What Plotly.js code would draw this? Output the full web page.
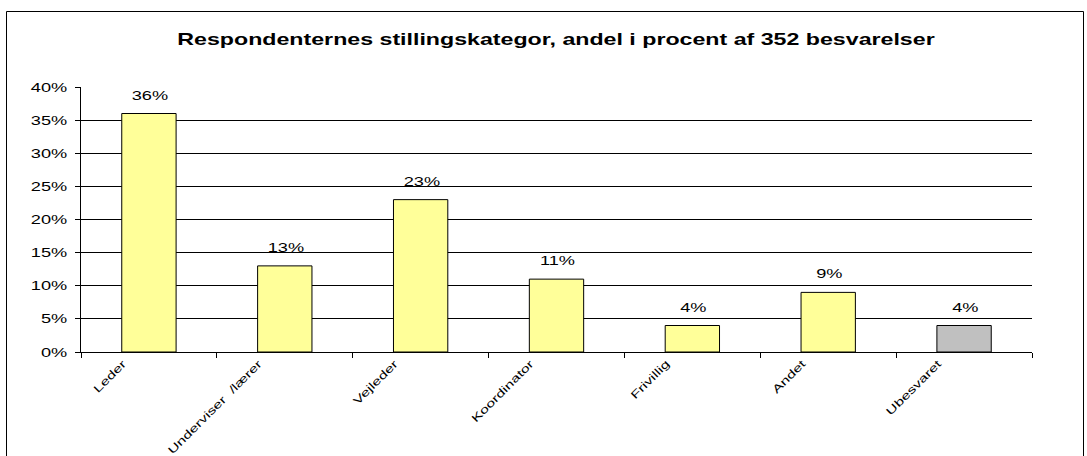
<!DOCTYPE html>
<html>
<head>
<meta charset="utf-8">
<script src="https://cdn.plot.ly/plotly-3.0.1.min.js"></script>
<style>
html,body{margin:0;padding:0;background:#fff;}
#chart{width:1087px;height:456px;}
</style>
</head>
<body>
<div id="chart"></div>
<script>
const categories = ["Leder", "Underviser  /lærer", "Vejleder", "Koordinator", "Frivillig", "Andet", "Ubesvaret"];
const values = [36, 13, 23, 11, 4, 9, 4];
const labels = ["36%", "13%", "23%", "11%", "4%", "9%", "4%"];
const barColors = ["#FFFF99", "#FFFF99", "#FFFF99", "#FFFF99", "#FFFF99", "#FFFF99", "#C0C0C0"];
const yTickVals = [0, 5, 10, 15, 20, 25, 30, 35, 40];
const yTickText = ["0%", "5%", "10%", "15%", "20%", "25%", "30%", "35%", "40%"];
const titleText = "Respondenternes stillingskategor, andel i procent af 352 besvarelser";

const L = 81, R = 55, T = 87, B = 104, W = 1087, H = 456;
const pw = W - L - R, ph = H - T - B;
const FONT = "Liberation Sans, Arial, sans-serif";
const STRETCH = 1.4;

const trace = {
  type: "bar",
  x: categories,
  y: values,
  width: 0.4,
  marker: {color: barColors, line: {color: "#000", width: 1}},
  hoverinfo: "none"
};

const annotations = categories.map((c, i) => ({
  x: c, y: values[i], xref: "x", yref: "y",
  text: labels[i], showarrow: false, yanchor: "bottom", yshift: 9, xshift: 1,
  font: {family: FONT, size: 13, color: "#000"}
}));

const layout = {
  width: W, height: H,
  margin: {l: L, r: R, t: T, b: B},
  paper_bgcolor: "#fff", plot_bgcolor: "#fff",
  showlegend: false,
  title: {
    text: "<b>" + titleText + "</b>",
    x: 556 / W, xanchor: "center", y: 1 - 39 / H, yanchor: "middle",
    font: {family: FONT, size: 16, color: "#000"}
  },
  xaxis: {
    type: "category",
    tickson: "boundaries",
    ticks: "outside", ticklen: 5, tickcolor: "#000",
    tickangle: -45,
    ticklabelshift: -26,
    showline: true, linecolor: "#000", linewidth: 1,
    showgrid: false,
    tickfont: {family: FONT, size: 11, color: "#000"}
  },
  yaxis: {
    range: [0, 40],
    tickvals: yTickVals, ticktext: yTickText,
    ticks: "outside", ticklen: 5, tickcolor: "#000",
    ticklabelstandoff: 5,
    showline: true, linecolor: "#000", linewidth: 1,
    showgrid: true, gridcolor: "#000", gridwidth: 1,
    zeroline: false,
    tickfont: {family: FONT, size: 13, color: "#000"}
  },
  bargap: 0.6,
  annotations: annotations,
  shapes: [{
    type: "rect", xref: "paper", yref: "paper",
    x0: (6.5 - L) / pw, x1: (1083.5 - L) / pw,
    y0: -(H + 20 - (H - B)) / ph, y1: (H - B - 11.5) / ph,
    line: {color: "#000", width: 1}, fillcolor: "rgba(0,0,0,0)", layer: "below"
  }]
};

// The reference renders its text horizontally widened; reproduce by scaling each text along its baseline.
function stretch(nodes, s, anchor) {
  nodes.forEach(el => {
    const b = el.getBBox();
    const ax = anchor === "end" ? b.x + b.width : (anchor === "start" ? b.x : b.x + b.width / 2);
    const ay = b.y + b.height / 2;
    const old = el.getAttribute("transform") || "";
    el.setAttribute("transform", old + " translate(" + ax + "," + ay + ") scale(" + s + ",1) translate(" + (-ax) + "," + (-ay) + ")");
  });
}

Plotly.newPlot("chart", [trace], layout, {staticPlot: true, displayModeBar: false}).then(gd => {
  const q = sel => Array.from(gd.querySelectorAll(sel));
  stretch(q(".gtitle"), 1.45, "middle");
  stretch(q(".ytick text"), STRETCH, "end");
  stretch(q(".xtick text"), 1.45, "end");
  stretch(q(".annotation-text"), STRETCH, "middle");
});
</script>
</body>
</html>
